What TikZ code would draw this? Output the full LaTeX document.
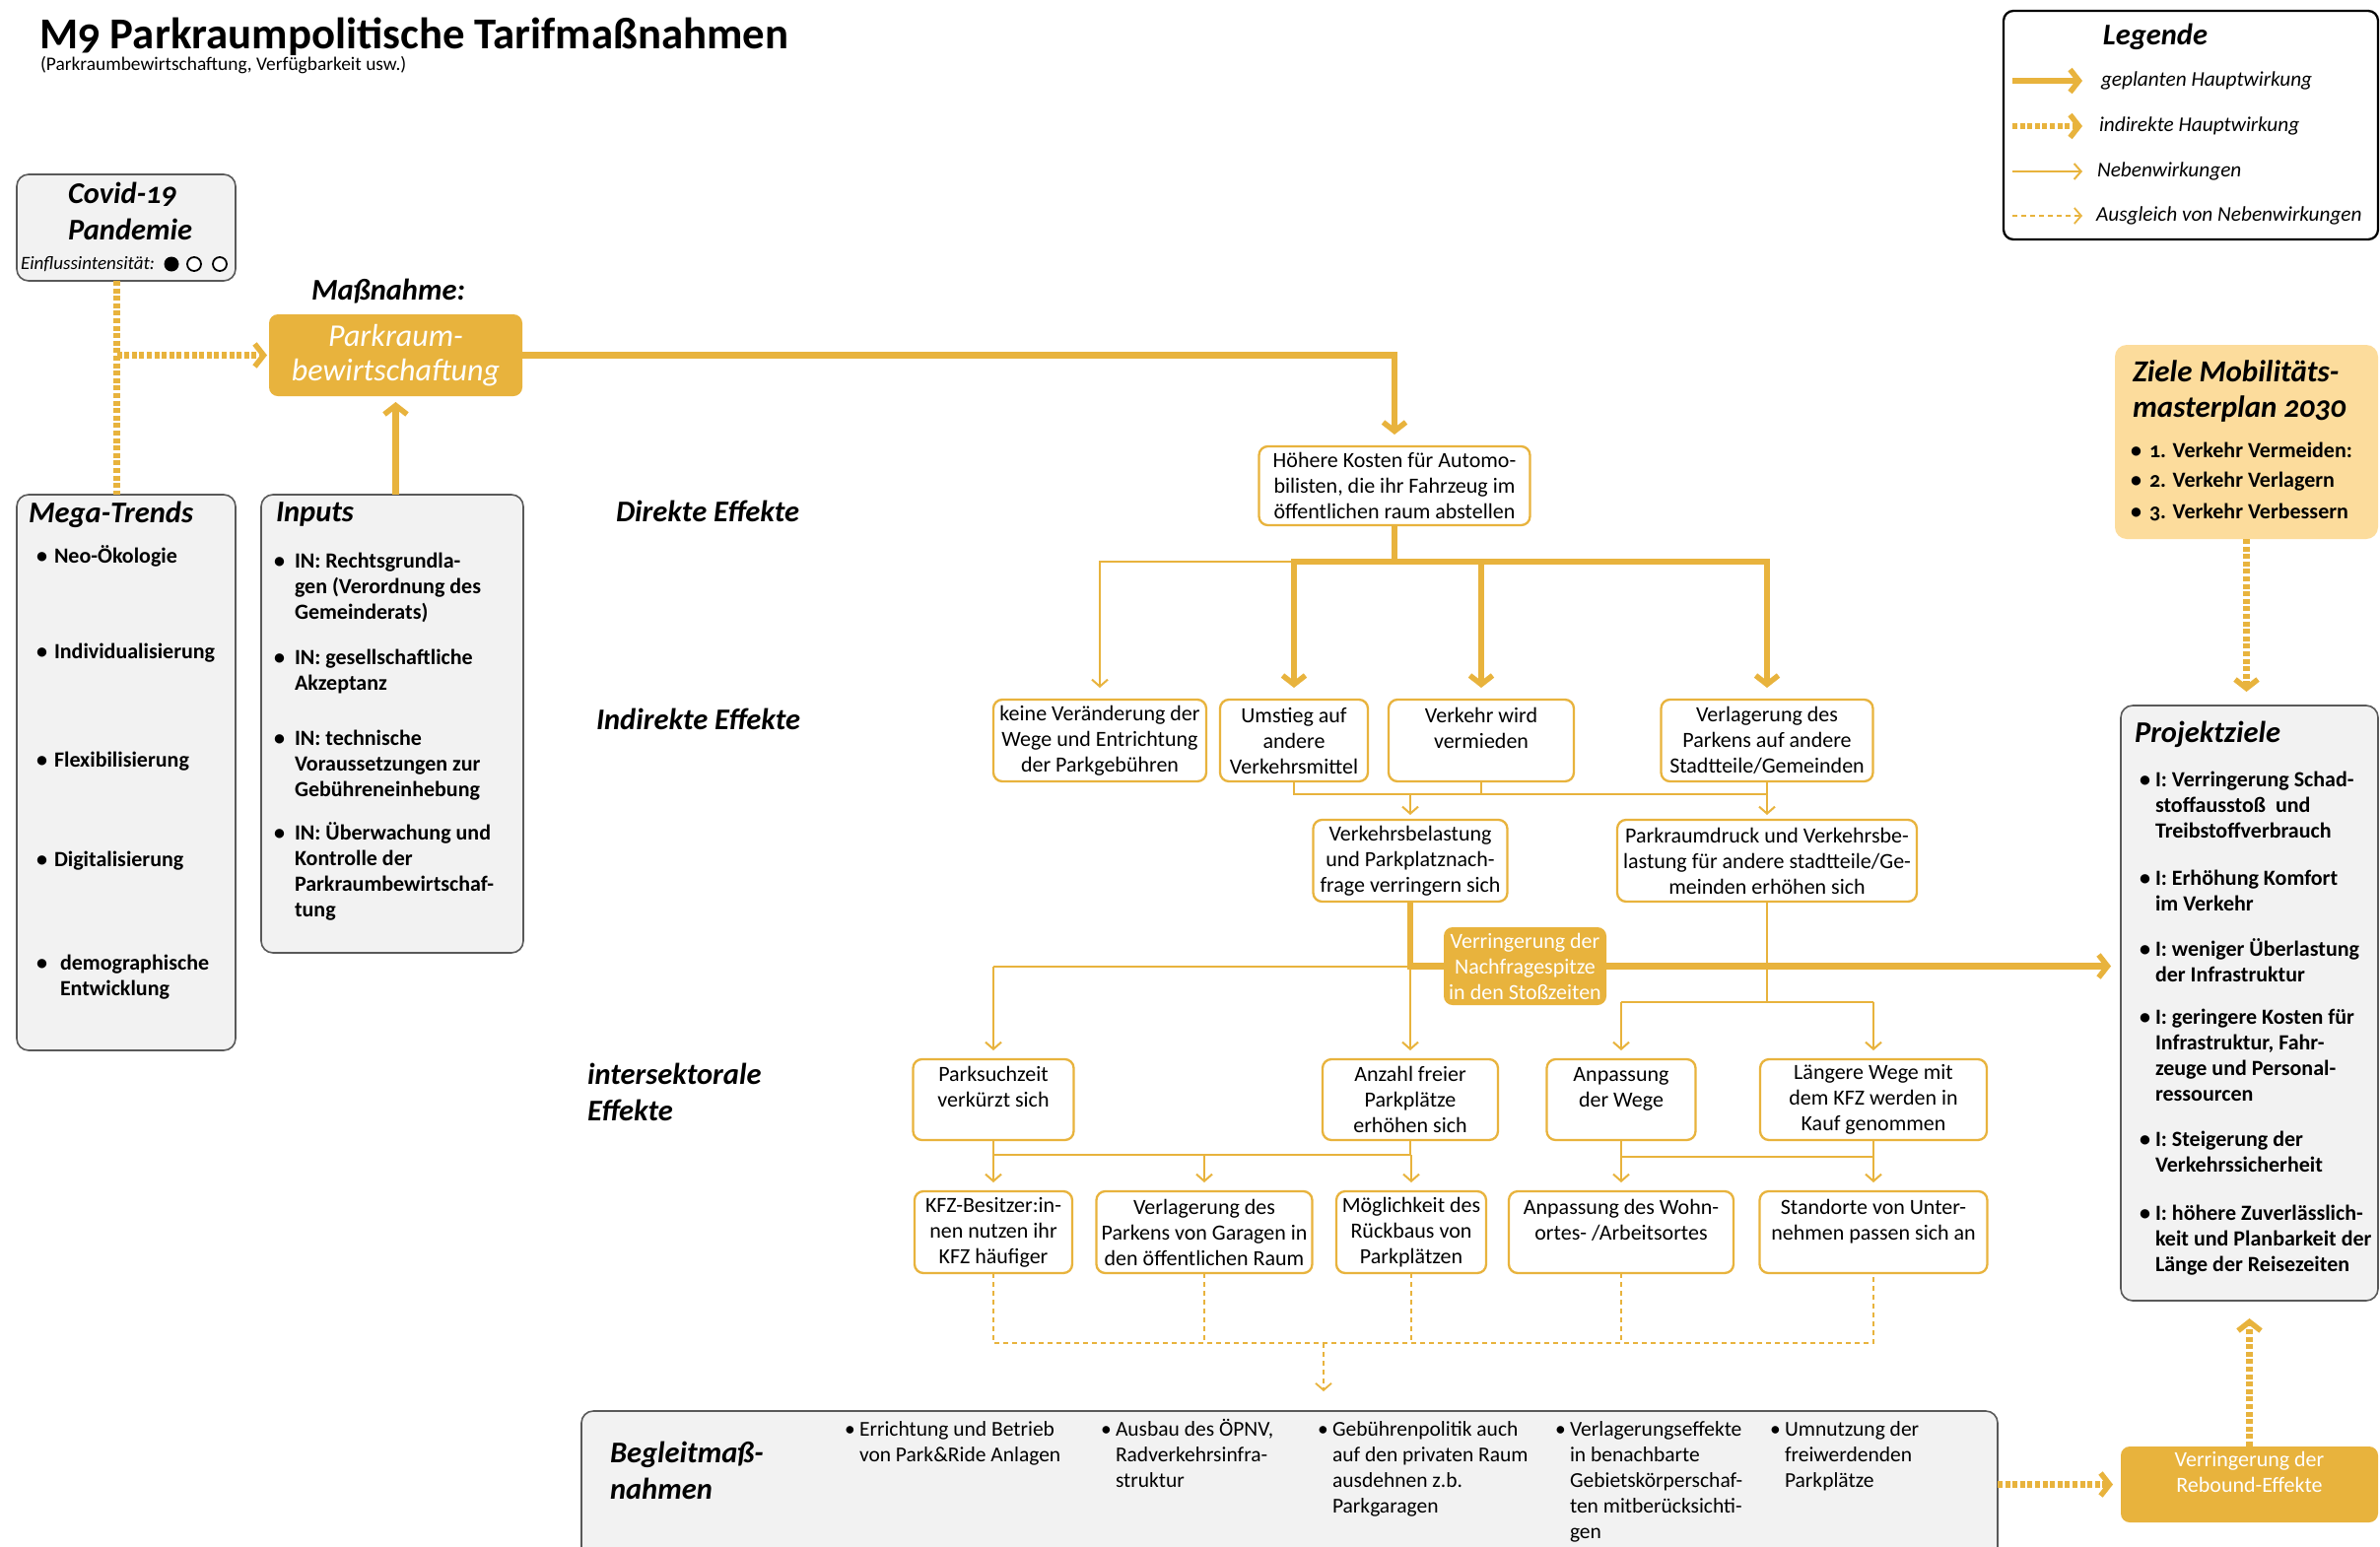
\documentclass[tikz,border=0pt]{standalone}
\usepackage{fontspec}
\setmainfont{Carlito}[Numbers=OldStyle]
\usetikzlibrary{arrows.meta,calc}

\definecolor{ora}{HTML}{E8B33D}
\definecolor{oral}{HTML}{FCDC9C}
\definecolor{gfill}{HTML}{F2F2F2}
\definecolor{gline}{HTML}{595959}

% left-aligned multi-line block whose baseline is the first line
\newcommand\tl[1]{\begin{tabular}[t]{@{}l@{}}#1\end{tabular}}
% bullet item: bullet x, text x, baseline y, text, name
\newcommand\bitem[5]{%
  \node[bul] (#5b) at (#1,#3) {\textbullet};
  \node[item] (#5) at (#2,#3) {\tl{#4}};}
\newcommand\citem[5]{%
  \node[bul,font=\fontsize{21.5}{26}\selectfont] (#5b) at (#1,#3) {\textbullet};
  \node[item,font=\fontsize{21.5}{26}\selectfont] (#5) at (#2,#3) {\tl{#4}};}

\tikzset{
  x=1pt, y=-1pt,
  every node/.style={inner sep=0pt, outer sep=0pt},
  obox/.style={draw=ora, line width=2.3pt, rounded corners=9pt, fill=white,
    align=center, font=\fontsize{22}{26}\selectfont},
  fbox/.style={fill=ora, rounded corners=9pt, align=center, text=white,
    font=\fontsize{22}{26}\selectfont},
  gbox/.style={fill=gfill, draw=gline, line width=1.6pt, rounded corners=12pt},
  head/.style={font=\fontsize{30.5}{37}\selectfont\bfseries\itshape},
  item/.style={font=\fontsize{22}{26}\selectfont\bfseries, anchor=base west},
  bul/.style={font=\fontsize{22}{26}\selectfont\bfseries, anchor=base west},
  legtxt/.style={font=\fontsize{21.3}{24}\selectfont\itshape, anchor=west},
  thk/.style={draw=ora, line width=6.5pt},
  thkarrow/.style={thk, -{Straight Barb[length=9pt,width=23pt,line width=5.5pt]}},
  dotline/.style={thk, dash pattern=on 5pt off 2.6pt},
  dotarrow/.style={thkarrow, dash pattern=on 5pt off 2.6pt},
  thinline/.style={draw=ora, line width=2pt},
  thinarrow/.style={thinline, -{Straight Barb[length=7pt,width=16pt,line width=2pt]}},
  dashline/.style={draw=ora, line width=1.8pt, dash pattern=on 5pt off 4pt},
  dasharrow/.style={dashline, -{Straight Barb[length=7pt,width=16pt,line width=1.8pt]}},
}

\begin{document}
\begin{tikzpicture}
\useasboundingbox[fill=white] (0,0) rectangle (2415,1569);

% ---------- title ----------
\node[anchor=base west, font=\fontsize{44.8}{50}\selectfont\bfseries] (ttl) at (40,49) {M9 Parkraumpolitische Tarifmaßnahmen};
\node[anchor=base west, font=\fontsize{19.4}{22}\selectfont] (sub) at (41,71) {(Parkraumbewirtschaftung, Verfügbarkeit usw.)};

% ---------- legend ----------
\node[draw=black, line width=2.3pt, rounded corners=10pt, minimum width=380pt, minimum height=232pt] (lg) at (2223,127) {};
\node[head] (lgt) at (2187,37) {Legende};
\coordinate (lg1a) at (2042,82);  \coordinate (lg1b) at (2113,82);
\coordinate (lg2a) at (2042,128); \coordinate (lg2b) at (2113,128);
\coordinate (lg3a) at (2042,174); \coordinate (lg3b) at (2113,174);
\coordinate (lg4a) at (2042,219); \coordinate (lg4b) at (2113,219);
\draw[thkarrow] (lg1a) -- (lg1b);
\draw[dotarrow] (lg2a) -- (lg2b);
\draw[thinarrow] (lg3a) -- (lg3b);
\draw[dasharrow] (lg4a) -- (lg4b);
\node[legtxt] (lgx1) at (2132,82) {geplanten Hauptwirkung};
\node[legtxt] (lgx2) at (2130,128) {indirekte Hauptwirkung};
\node[legtxt] (lgx3) at (2128,174) {Nebenwirkungen};
\node[legtxt] (lgx4) at (2127,219) {Ausgleich von Nebenwirkungen};

% ---------- Covid ----------
\node[gbox, minimum width=222pt, minimum height=108pt] (cov) at (128,231) {};
\node[head, anchor=west] (cv1) at (69,197) {Covid-19};
\node[head, anchor=west] (cv2) at (69,233) {Pandemie};
\node[anchor=west, font=\fontsize{19}{22}\selectfont\itshape] (einf) at (21,268) {Einflussintensität:};
\node[circle, fill=black, minimum size=15pt] (ci1) at (174,268) {};
\node[circle, draw=black, line width=1.8pt, fill=white, minimum size=14pt] (ci2) at (197,268) {};
\node[circle, draw=black, line width=1.8pt, fill=white, minimum size=14pt] (ci3) at (223,268) {};

% ---------- measure ----------
\node[head] (msn) at (394,296) {Maßnahme:};
\node[fbox, minimum width=257pt, minimum height=83pt, font=\fontsize{32}{35}\selectfont\itshape] (pk) at (401.5,360.5) {Parkraum-\\bewirtschaftung};

% ---------- mega trends ----------
\node[gbox, minimum width=222pt, minimum height=564pt] (mt) at (128,784) {};
\node[head, anchor=west] (mtt) at (29,522) {Mega-Trends};
\bitem{37}{55}{571}{Neo-Ökologie}{mt1}
\bitem{37}{55}{668}{Individualisierung}{mt2}
\bitem{37}{55}{778}{Flexibilisierung}{mt3}
\bitem{37}{55}{879}{Digitalisierung}{mt4}
\bitem{37}{61}{984}{demographische\\Entwicklung}{mt5}

% ---------- inputs ----------
\node[gbox, minimum width=266pt, minimum height=465pt] (inp) at (398,734.5) {};
\node[head, anchor=west] (inpt) at (280,522) {Inputs};
\bitem{278}{299}{576}{IN: Rechtsgrundla-\\gen (Verordnung des\\Gemeinderats)}{in1}
\bitem{278}{299}{674}{IN: gesellschaftliche\\Akzeptanz}{in2}
\bitem{278}{299}{756}{IN: technische\\Voraussetzungen zur\\Gebühreneinhebung}{in3}
\bitem{278}{299}{852}{IN: Überwachung und\\Kontrolle der\\Parkraumbewirtschaf-\\tung}{in4}

% ---------- row labels ----------
\node[head, anchor=west] (lbd) at (625,519) {Direkte Effekte};
\node[head, anchor=west] (lbi) at (605,730) {Indirekte Effekte};
\node[head, anchor=west, align=left] (lbs) at (596,1108) {intersektorale\\Effekte};

% ---------- effect boxes ----------
\node[obox, minimum width=275pt, minimum height=80pt] (hk) at (1415,493) {Höhere Kosten für Automo-\\bilisten, die ihr Fahrzeug im\\öffentlichen raum abstellen};

\node[obox, minimum width=216pt, minimum height=83pt] (A) at (1116,751.5) {keine Veränderung der\\Wege und Entrichtung\\der Parkgebühren};
\node[obox, minimum width=150pt, minimum height=83pt] (B) at (1313,751.5) {Umstieg auf\\andere\\Verkehrsmittel};
\node[obox, minimum width=188pt, minimum height=83pt] (C) at (1503,751.5) {Verkehr wird\\vermieden\\\mbox{}};
\node[obox, minimum width=215pt, minimum height=83pt] (D) at (1793,751.5) {Verlagerung des\\Parkens auf andere\\Stadtteile/Gemeinden};

\node[obox, minimum width=197pt, minimum height=83pt] (E) at (1431,873.5) {Verkehrsbelastung\\und Parkplatznach-\\frage verringern sich};
\node[obox, minimum width=304pt, minimum height=83pt] (F) at (1793,873.5) {Parkraumdruck und Verkehrsbe-\\lastung für andere stadtteile/Ge-\\meinden erhöhen sich};

\node[fbox, minimum width=165pt, minimum height=79pt] (nf) at (1547.5,980.5) {Verringerung der\\Nachfragespitze\\in den Stoßzeiten};

\node[obox, minimum width=163pt, minimum height=82pt] (G) at (1008,1116) {Parksuchzeit\\verkürzt sich\\\mbox{}};
\node[obox, minimum width=178pt, minimum height=82pt] (H) at (1431,1116) {Anzahl freier\\Parkplätze\\erhöhen sich};
\node[obox, minimum width=151pt, minimum height=82pt] (I) at (1645,1116) {Anpassung\\der Wege\\\mbox{}};
\node[obox, minimum width=230pt, minimum height=82pt] (J) at (1901,1116) {Längere Wege mit\\dem KFZ werden in\\Kauf genommen};

\node[obox, minimum width=160pt, minimum height=83pt] (K) at (1008,1250.5) {KFZ-Besitzer:in-\\nen nutzen ihr\\KFZ häufiger};
\node[obox, minimum width=219pt, minimum height=83pt] (L) at (1222,1250.5) {Verlagerung des\\Parkens von Garagen in\\den öffentlichen Raum};
\node[obox, minimum width=152pt, minimum height=83pt] (M) at (1432,1250.5) {Möglichkeit des\\Rückbaus von\\Parkplätzen};
\node[obox, minimum width=228pt, minimum height=83pt] (N) at (1645,1250.5) {Anpassung des Wohn-\\ortes- /Arbeitsortes\\\mbox{}};
\node[obox, minimum width=231pt, minimum height=83pt] (O) at (1901,1250.5) {Standorte von Unter-\\nehmen passen sich an\\\mbox{}};

% ---------- goals ----------
\node[fill=oral, rounded corners=12pt, minimum width=267pt, minimum height=197pt] (zl) at (2279.5,448.5) {};
\node[head, anchor=base west, font=\fontsize{31}{36}\selectfont\bfseries\itshape] (zlt) at (2164,387) {\tl{Ziele Mobilitäts-\\masterplan 2030}};
\bitem{2162}{2181}{464}{1. Verkehr Vermeiden:}{zl1}
\bitem{2162}{2181}{494}{2. Verkehr Verlagern}{zl2}
\bitem{2162}{2181}{526}{3. Verkehr Verbessern}{zl3}

\node[gbox, minimum width=261pt, minimum height=604pt] (pz) at (2282.5,1018) {};
\node[head, anchor=west] (pzt) at (2166,745) {Projektziele};
\bitem{2171}{2187}{798}{I: Verringerung Schad-\\stoffausstoß~ und\\Treibstoffverbrauch}{pz1}
\bitem{2171}{2187}{898}{I: Erhöhung Komfort\\im Verkehr}{pz2}
\bitem{2171}{2187}{970}{I: weniger Überlastung\\der Infrastruktur}{pz3}
\bitem{2171}{2187}{1039}{I: geringere Kosten für\\Infrastruktur, Fahr-\\zeuge und Personal-\\ressourcen}{pz4}
\bitem{2171}{2187}{1163}{I: Steigerung der\\Verkehrssicherheit}{pz5}
\bitem{2171}{2187}{1238}{I: höhere Zuverlässlich-\\keit und Planbarkeit der\\Länge der Reisezeiten}{pz6}

\node[fbox, minimum width=261pt, minimum height=77pt] (rb) at (2282.5,1506.5) {Verringerung der\\Rebound-Effekte\\\mbox{}};

% ---------- accompanying measures ----------
\node[gbox, minimum width=1437pt, minimum height=200pt] (bg) at (1308.5,1532) {};
\node[head, anchor=west, align=left] (bgt) at (619,1492.5) {Begleitmaß-\\nahmen};
\citem{857}{872}{1457}{Errichtung und Betrieb\\von Park\&Ride Anlagen}{bg1}
\citem{1117}{1132}{1457}{Ausbau des ÖPNV,\\Radverkehrsinfra-\\struktur}{bg2}
\citem{1337}{1352}{1457}{Gebührenpolitik auch\\auf den privaten Raum\\ausdehnen z.b.\\Parkgaragen}{bg3}
\citem{1578}{1593}{1457}{Verlagerungseffekte\\in benachbarte\\Gebietskörperschaf-\\ten mitberücksichti-\\gen}{bg4}
\citem{1796}{1811}{1457}{Umnutzung der\\freiwerdenden\\Parkplätze}{bg5}

% ---------- connectors ----------
\coordinate (cvb) at ([xshift=-9.4pt]cov.south);
\draw[dotline] (cvb) -- (cvb |- mt.north);
\draw[dotarrow, shorten >=2pt] (cvb |- pk.west) -- (pk.west);
\draw[thkarrow, shorten >=6pt] (inp.north -| pk.south) -- (pk.south);
\draw[thkarrow, shorten >=12pt] (pk.east) -| (hk.north);

\coordinate (r1) at (0,570);
\draw[thinarrow, shorten >=12pt] (B.north |- r1) -| (A.north);
\draw[thk] (hk.south) -- (hk.south |- r1);
\draw[thk, line cap=rect] (B.north |- r1) -- (D.north |- r1);
\draw[thkarrow, shorten >=12pt] (B.north |- r1) -- (B.north);
\draw[thkarrow, shorten >=12pt] (C.north |- r1) -- (C.north);
\draw[thkarrow, shorten >=12pt] (D.north |- r1) -- (D.north);

\coordinate (r2) at (0,805.5);
\draw[thinline] (B.south) -- (B.south |- r2) -- (D.south |- r2) -- (D.south);
\draw[thinline] (C.south) -- (C.south |- r2);
\draw[thinarrow, shorten >=5pt] (E.north |- r2) -- (E.north);
\draw[thinarrow, shorten >=5pt] (F.north |- r2) -- (F.north);

\coordinate (r3) at (0,1016.5);
\draw[thinline] (F.south) -- (F.south |- r3);
\draw[thinline] (I.north |- r3) -- (J.north |- r3);
\draw[thinarrow, shorten >=9pt] (I.north |- r3) -- (I.north);
\draw[thinarrow, shorten >=9pt] (J.north |- r3) -- (J.north);

\draw[thinline] (G.north |- nf.west) -- (E.south |- nf.west);
\draw[thinarrow, shorten >=9pt] (G.north |- nf.west) -- (G.north);
\draw[thinarrow, shorten >=9pt] (E.south |- nf.west) -- (H.north);
\draw[thk] (E.south) |- (nf.west);
\draw[thkarrow, shorten >=10pt] (nf.east) -- (nf.east -| pz.west);

\coordinate (r4) at (0,1172);
\draw[thinline] (G.south) -- (G.south |- r4) -- (H.south |- r4) -- (H.south);
\draw[thinarrow, shorten >=9pt] (K.north |- r4) -- (K.north);
\draw[thinarrow, shorten >=9pt] (L.north |- r4) -- (L.north);
\draw[thinarrow, shorten >=9pt] (M.north |- r4) -- (M.north);
\coordinate (r5) at (0,1174);
\draw[thinline] (I.south) -- (I.south |- r5) -- (J.south |- r5) -- (J.south);
\draw[thinarrow, shorten >=9pt] (N.north |- r5) -- (N.north);
\draw[thinarrow, shorten >=9pt] (O.north |- r5) -- (O.north);

\coordinate (r6) at (0,1363);
\draw[dashline] (K.south) -- (K.south |- r6) -- (O.south |- r6) -- (O.south);
\foreach \n in {L,M,N} \draw[dashline] (\n.south) -- (\n.south |- r6);
\coordinate (dm) at (1343,1363);
\draw[dasharrow, shorten >=20pt] (dm) -- (dm |- bg.north);

\draw[dotarrow, shorten >=8pt] (bg.east |- rb.west) -- (rb.west);
\draw[dotarrow, shorten >=18pt] (rb.north) -- (pz.south);
\draw[dotarrow, shorten >=14pt] (zl.south) -- (zl.south |- pz.north);
\end{tikzpicture}
\end{document}
